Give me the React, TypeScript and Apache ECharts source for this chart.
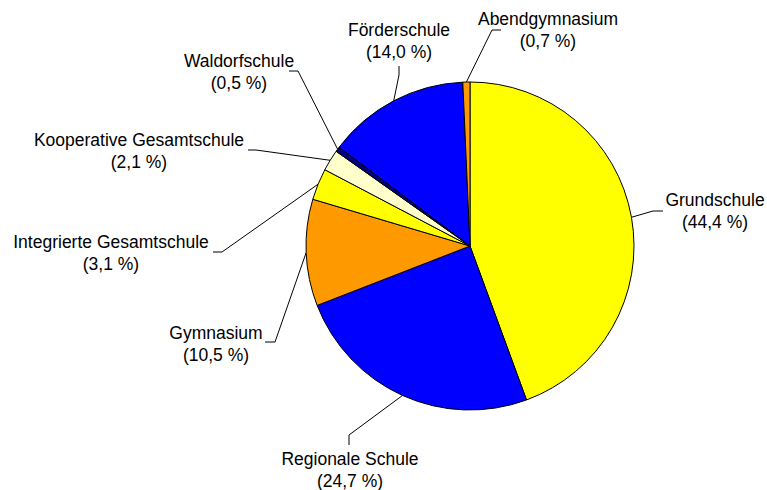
import React, { useEffect, useRef } from "react";
import * as echarts from "echarts";

const categories = [
  "Grundschule",
  "Regionale Schule",
  "Gymnasium",
  "Integrierte Gesamtschule",
  "Kooperative Gesamtschule",
  "Waldorfschule",
  "Förderschule",
  "Abendgymnasium",
];
const shares = [44.4, 24.7, 10.5, 3.1, 2.1, 0.5, 14.0, 0.7];
const colors = ["#FFFF00", "#0000FF", "#FF9900", "#FFFF00", "#FFFFCC", "#000080", "#0000FF", "#FF9900"];

// label text centre, elbow point, end point (layout only)
const labelPos: [number, number][] = [
  [715, 211],
  [350, 470],
  [216, 344],
  [111, 253],
  [139, 151],
  [239, 72],
  [399, 41],
  [548, 30],
];
const elbow: [number, number][] = [
  [653, 211],
  [349, 435],
  [275, 342],
  [222, 252],
  [256, 150],
  [298, 71],
  [399, 75],
  [492, 30],
];
const stubEnd: [number, number][] = [
  [663, 211],
  [349, 445],
  [265, 342],
  [213, 252],
  [248, 150],
  [289, 71],
  [399, 66],
  [501, 30],
];

export default function App() {
  const ref = useRef<HTMLDivElement>(null);
  useEffect(() => {
    if (!ref.current) return;
    const chart = echarts.init(ref.current, undefined, { renderer: "svg" });
    chart.setOption({
      animation: false,
      backgroundColor: "#ffffff",
      series: [
        {
          type: "pie",
          center: [470, 246],
          radius: 164,
          startAngle: 90,
          clockwise: true,
          avoidLabelOverlap: false,
          data: categories.map((name, i) => ({
            name,
            value: shares[i],
            itemStyle: { color: colors[i] },
          })),
          itemStyle: { borderColor: "#000", borderWidth: 1 },
          label: {
            show: true,
            position: "outside",
            color: "#000",
            fontFamily: "Liberation Sans, Arial, sans-serif",
            fontSize: 17.5,
            lineHeight: 22,
            align: "center",
            formatter: (p: any) =>
              p.name + "\n(" + Number(p.value).toFixed(1).replace(".", ",") + " %)",
          },
          labelLine: {
            show: true,
            length: 10,
            length2: 10,
            smooth: false,
            lineStyle: { color: "#000", width: 1 },
          },
          labelLayout: (params: any) => {
            const i = params.dataIndex;
            const p0 = params.labelLinePoints ? params.labelLinePoints[0] : elbow[i];
            return {
              x: labelPos[i][0],
              y: labelPos[i][1],
              align: "center",
              verticalAlign: "middle",
              labelLinePoints: [p0, elbow[i], stubEnd[i]],
            };
          },
          emphasis: { disabled: true },
        },
      ],
    });
    return () => chart.dispose();
  }, []);
  return (
    <div
      ref={ref}
      style={{ position: "fixed", left: 0, top: 0, width: 767, height: 490 }}
    />
  );
}
